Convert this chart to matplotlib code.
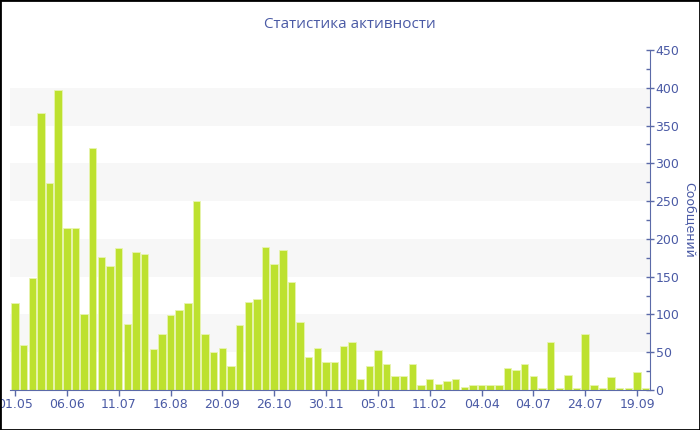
import numpy as np
import matplotlib.pyplot as plt
from matplotlib.ticker import MultipleLocator

# messages per period
values = [115, 60, 148, 366, 274, 397, 214, 214, 100, 320,
          176, 164, 188, 87, 182, 180, 54, 74, 99, 106,
          115, 250, 74, 50, 56, 32, 86, 117, 121, 189,
          167, 185, 143, 90, 44, 55, 37, 37, 58, 64,
          14, 32, 53, 34, 19, 18, 35, 7, 15, 8,
          12, 14, 4, 6, 7, 7, 6, 29, 26, 34,
          19, 3, 63, 3, 20, 3, 74, 7, 3, 17,
          3, 3, 24, 3]
tick_labels = ['01.05', '06.06', '11.07', '16.08', '20.09', '26.10', '30.11',
               '05.01', '11.02', '04.04', '04.07', '24.07', '19.09']
tick_step = 6

text_col = '#4a5aa5'
axis_col = '#5b6aa8'
bar_col = '#bde12f'

fig = plt.figure(figsize=(7, 4.3), dpi=100)
ax = fig.add_axes([10/700, 1 - 390/430, 640/700, 340/430])

x = np.arange(len(values))
for lo in range(50, 450, 100):
    ax.axhspan(lo, lo + 50, color='#f7f7f7', zorder=0, lw=0)
ax.bar(x, values, width=0.86, color=bar_col, edgecolor='#e8f4b0', linewidth=0.6, zorder=2)

ax.set_xlim(-0.58, len(values) - 0.5)
ax.set_ylim(0, 450)

ax.yaxis.tick_right()
ax.yaxis.set_label_position('right')
ax.yaxis.set_major_locator(MultipleLocator(50))
ax.yaxis.set_minor_locator(MultipleLocator(25))
ax.tick_params(axis='y', which='major', direction='inout', length=6, width=1,
               color=axis_col, labelcolor=text_col, labelsize=9, pad=1)
ax.tick_params(axis='y', which='minor', direction='in', length=3, width=1, color=axis_col)
ax.set_ylabel('Сообщений', color=text_col, fontsize=9, rotation=270, labelpad=12)

ax.set_xticks(x[::tick_step])
ax.set_xticklabels(tick_labels)
ax.tick_params(axis='x', direction='out', length=4, width=1, color=axis_col,
               labelcolor=text_col, labelsize=9, pad=2)

for s in ['top', 'left']:
    ax.spines[s].set_visible(False)
ax.spines['right'].set_color(axis_col)
ax.spines['bottom'].set_color(axis_col)

fig.text(0.5, 1 - 25/430, 'Статистика активности', ha='center', va='center',
         color=text_col, fontsize=11, family=['Open Sans', 'DejaVu Sans'])

fig.patches.append(plt.Rectangle((0, 0), 1, 1, transform=fig.transFigure,
                                 fill=False, edgecolor='black', linewidth=2))

fig.savefig('out.png', dpi=100)
